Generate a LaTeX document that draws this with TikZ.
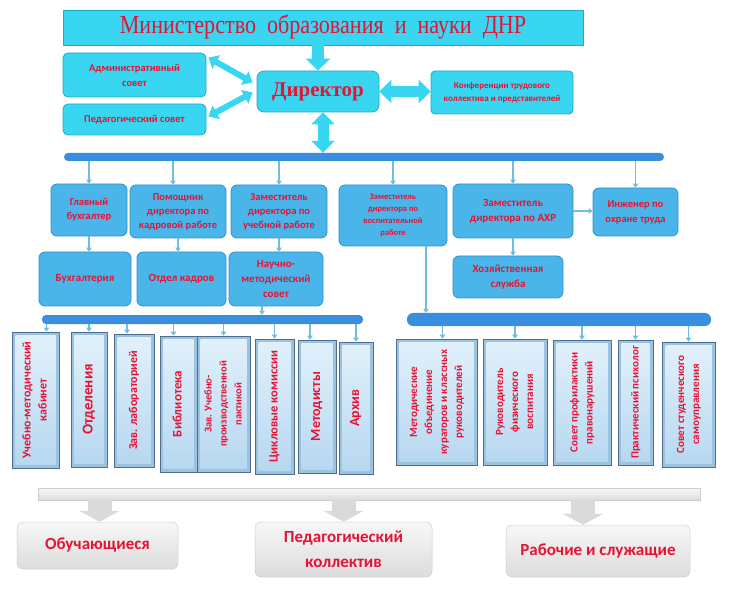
\documentclass[tikz,border=0pt]{standalone}
\usepackage{fontspec}
\setmainfont{Carlito}
\newfontfamily\serifru{Liberation Serif}
\newfontfamily\serifnarrow[FakeStretch=0.85]{Liberation Serif}
\usepackage{graphicx}
\usetikzlibrary{arrows.meta,calc}
\definecolor{cyanF}{RGB}{56,214,240}
\definecolor{cyanD}{RGB}{30,170,205}
\definecolor{skyF}{RGB}{74,181,232}
\definecolor{skyD}{RGB}{45,145,205}
\definecolor{barB}{RGB}{58,142,222}
\definecolor{connC}{RGB}{110,190,225}
\definecolor{redT}{RGB}{232,18,52}
\definecolor{vBorder}{RGB}{80,110,140}
\definecolor{vBevel}{RGB}{155,195,224}
\definecolor{vInA}{RGB}{226,241,251}
\definecolor{vInB}{RGB}{182,215,240}
\definecolor{gFA}{RGB}{247,247,247}
\definecolor{gFB}{RGB}{220,220,220}
\definecolor{gD}{RGB}{205,205,205}
\definecolor{gArr}{RGB}{218,218,218}
\newcommand\bx[7]{\node[#2, minimum width={#5-#3}, minimum height={#6-#4}] (#1) at ({(#3+#5)/2},{(#4+#6)/2}) {#7};}
\newcommand\vt[1]{\rotatebox{90}{\begin{tabular}{@{}c@{}}#1\end{tabular}}}
\begin{document}
\begin{tikzpicture}[x=1pt,y=-1pt,
  cbox/.style={draw=cyanD, fill=cyanF, line width=0.8pt, rounded corners=5pt, inner sep=1pt, align=center, text=redT, font=\bfseries\fontsize{10.5}{14}\selectfont},
  sbox/.style={draw=skyD, fill=skyF, line width=0.8pt, rounded corners=6pt, inner sep=1pt, align=center, text=redT, font=\bfseries\fontsize{10.5}{14}\selectfont},
  vbox/.style={draw=vBorder, fill=vBevel, line width=0.7pt, inner sep=0pt, text=redT, font=\bfseries\fontsize{12}{16}\selectfont,
    path picture={\shade[top color=vInA, bottom color=vInB] ([shift={(3.5pt,-3.5pt)}]path picture bounding box.north west) rectangle ([shift={(-3.5pt,3.5pt)}]path picture bounding box.south east);}},
  gbox/.style={draw=gD, top color=gFA, bottom color=gFB, line width=0.5pt, rounded corners=6pt, inner sep=1pt, align=center, text=redT, font=\bfseries\fontsize{17}{25}\selectfont},
  barnode/.style={fill=barB, rounded corners=4pt, inner sep=0pt},
  gbarnode/.style={draw=gD, top color=gFA, bottom color=gFB, line width=0.4pt, inner sep=0pt},
  conn/.style={draw=connC, line width=1.3pt, -{Triangle[length=4pt,width=5.5pt]}},
  dblA/.style={draw=cyanF, line width=6pt, {Triangle[length=9pt,width=15pt]}-{Triangle[length=9pt,width=15pt]}},
  dblB/.style={draw=cyanF, line width=11pt, {Triangle[length=12pt,width=23pt]}-{Triangle[length=12pt,width=23pt]}},
  downA/.style={draw=cyanF, line width=12pt, -{Triangle[length=12pt,width=24pt]}},
  garrow/.style={draw=gArr, line width=24pt, -{Triangle[length=11pt,width=40pt]}}
]
\useasboundingbox (0,0) rectangle (732,591);

% top level
\bx{banner}{cbox, rounded corners=0pt, font=\serifnarrow\fontsize{26}{30}\selectfont}{63}{10}{583}{45}{Министерство\ \ образования\ \ и\ \ науки\ \ ДНР}
\bx{adm}{cbox, font=\bfseries\fontsize{10.5}{15}\selectfont}{63}{53}{206}{97}{Административный\\совет}
\bx{ped}{cbox, font=\bfseries\fontsize{10.5}{15}\selectfont}{63}{104}{206}{135}{Педагогический совет}
\bx{dir}{cbox, rounded corners=7pt, font=\serifru\bfseries\fontsize{21}{26}\selectfont}{257}{71}{379}{112}{Директор}
\bx{conf}{cbox, rounded corners=4pt, font=\bfseries\fontsize{9}{13}\selectfont}{431}{71}{573}{114}{Конференции трудового\\коллектива и представителей}

\draw[downA] (banner.south -| dir.north) -- (dir.north);
\draw[dblA] ($(adm.north east)+(2,5)$) -- ($(dir.west)+(-4,-9)$);
\draw[dblA] ($(ped.east)+(2,-3)$) -- ($(dir.west)+(-4,1)$);
\draw[dblB] (dir.east) -- (dir.east -| conf.west);

% main bar
\bx{tbar}{barnode}{64}{153}{664}{161}{}
\draw[dblB] ($(dir.south)+(5,0)$) -- ($(dir.south |- tbar.north)+(5,0)$);

% first row
\bx{gb}{sbox}{51}{184}{127}{236}{Главный\\бухгалтер}
\bx{pom}{sbox}{130}{185}{226}{238}{Помощник\\директора по\\кадровой работе}
\bx{zu}{sbox}{231}{185}{327}{238}{Заместитель\\директора по\\учебной работе}
\bx{zv}{sbox, font=\bfseries\fontsize{8.5}{12}\selectfont}{339}{185}{447}{246}{Заместитель\\директора по\\воспитательной\\работе}
\bx{axr}{sbox, font=\bfseries\fontsize{11}{15}\selectfont}{453}{184}{573}{238}{Заместитель\\директора по АХР}
\bx{ing}{sbox, font=\bfseries\fontsize{10.5}{15}\selectfont}{593}{188}{678}{236}{Инженер по\\охране труда}

\draw[conn] (tbar.south -| gb.north) -- (gb.north);
\coordinate (pomin) at ($(pom.north)+(-5,0)$);
\draw[conn] (tbar.south -| pomin) -- (pomin);
\draw[conn] (tbar.south -| zu.north) -- (zu.north);
\draw[conn] (tbar.south -| zv.north) -- (zv.north);
\draw[conn] (tbar.south -| axr.north) -- (axr.north);
\draw[conn] (tbar.south -| ing.north) -- (ing.north);

% second row
\bx{buh}{sbox, font=\bfseries\fontsize{11}{15}\selectfont}{39}{252}{131}{306}{Бухгалтерия}
\bx{ok}{sbox, font=\bfseries\fontsize{11}{15}\selectfont}{137}{252}{226}{306}{Отдел кадров}
\bx{nms}{sbox, font=\bfseries\fontsize{11}{15}\selectfont}{229}{252}{323}{306}{Научно-\\методический\\совет}
\bx{hoz}{sbox, font=\bfseries\fontsize{11}{15}\selectfont}{453}{256}{563}{298}{Хозяйственная\\служба}

\draw[conn] (gb.south) -- (gb.south |- buh.north);
\draw[conn] (pom.south) -- (pom.south |- ok.north);
\draw[conn] (zu.south) -- (zu.south |- nms.north);
\draw[conn] (axr.south) -- (axr.south |- hoz.north);
\draw[conn] (axr.east) -- (axr.east -| ing.west);

% second bars
\bx{lbar}{barnode}{42}{315}{363}{324}{}
\bx{rbar}{barnode, rounded corners=6pt}{407}{313}{711}{326}{}
\coordinate (nmsout) at ($(nms.south)+(-14,0)$);
\draw[conn] (nmsout) -- (nmsout |- lbar.north);
\coordinate (zvout) at ($(zv.south)+(33,0)$);
\draw[conn] (zvout) -- (zvout |- rbar.north);

% left vertical boxes
\bx{umk}{vbox}{12}{332}{59}{468}{\vt{Учебно-методический\\кабинет}}
\bx{otd}{vbox, font=\bfseries\fontsize{15}{18}\selectfont}{71}{332}{107}{467}{\vt{Отделения}}
\bx{zl}{vbox}{114}{334}{154}{467}{\vt{Зав. лабораторией}}
\bx{bib}{vbox, font=\bfseries\fontsize{13}{16}\selectfont}{160}{336}{197}{472}{\vt{Библиотека}}
\bx{zup}{vbox, font=\bfseries\fontsize{10.5}{15}\selectfont}{197}{336}{250}{472}{\vt{Зав. Учебно-\\производственной\\пактикой}}
\bx{cik}{vbox, font=\bfseries\fontsize{12.5}{16}\selectfont}{255}{339}{294}{474}{\vt{Цикловые комиссии}}
\bx{met}{vbox, font=\bfseries\fontsize{14}{16}\selectfont}{298}{340}{336}{473}{\vt{Методисты}}
\bx{arh}{vbox, font=\bfseries\fontsize{14}{16}\selectfont}{339}{342}{373}{474}{\vt{Архив}}

\coordinate (umkin) at ($(umk.north)+(11,0)$);
\draw[conn] (lbar.south -| umkin) -- (umkin);
\draw[conn] (lbar.south -| otd.north) -- (otd.north);
\coordinate (zlin) at ($(zl.north)+(-7,0)$);
\draw[conn] (lbar.south -| zlin) -- (zlin);
\coordinate (bibin) at ($(bib.north)+(-5,0)$);
\draw[conn] (lbar.south -| bibin) -- (bibin);
\draw[conn] (lbar.south -| zup.north) -- (zup.north);
\draw[conn] (lbar.south -| cik.north) -- (cik.north);
\coordinate (metin) at ($(met.north)+(-7,0)$);
\draw[conn] (lbar.south -| metin) -- (metin);
\draw[conn] (lbar.south -| arh.north) -- (arh.north);

% right vertical boxes
\bx{mo}{vbox, font=\bfseries\fontsize{11}{15}\selectfont}{396}{339}{477}{465}{\vt{Методические\\объединение\\кураторов и классных\\руководителей}}
\bx{rfv}{vbox, font=\bfseries\fontsize{11}{15}\selectfont}{483}{339}{547}{465}{\vt{Руководитель\\физического\\воспитания}}
\bx{spp}{vbox, font=\bfseries\fontsize{11}{15}\selectfont}{553}{340}{611}{465}{\vt{Совет профилактики\\правонарушений}}
\bx{pp}{vbox, font=\bfseries\fontsize{11}{15}\selectfont}{618}{340}{653}{465}{\vt{Практический психолог}}
\bx{sss}{vbox, font=\bfseries\fontsize{11}{15}\selectfont}{662}{342}{715}{467}{\vt{Совет студенческого\\самоуправления}}

\coordinate (moin) at ($(mo.north)+(6,0)$);
\draw[conn] (rbar.south -| moin) -- (moin);
\draw[conn] (rbar.south -| rfv.north) -- (rfv.north);
\draw[conn] (rbar.south -| spp.north) -- (spp.north);
\draw[conn] (rbar.south -| pp.north) -- (pp.north);
\draw[conn] (rbar.south -| sss.north) -- (sss.north);

% bottom
\bx{gbar}{gbarnode}{38}{488}{700}{500}{}
\bx{ob}{gbox}{17}{522}{178}{569}{Обучающиеся}
\bx{pk}{gbox}{255}{522}{432}{577}{Педагогический\\коллектив}
\bx{rs}{gbox}{506}{525}{690}{577}{Рабочие и служащие}

\coordinate (obin) at ($(ob.north)+(2,0)$);
\draw[garrow] (gbar.south -| obin) -- (obin);
\draw[garrow] (gbar.south -| pk.north) -- (pk.north);
\coordinate (rsin) at ($(rs.north)+(-15,0)$);
\draw[garrow] (gbar.south -| rsin) -- (rsin);
\end{tikzpicture}
\end{document}
